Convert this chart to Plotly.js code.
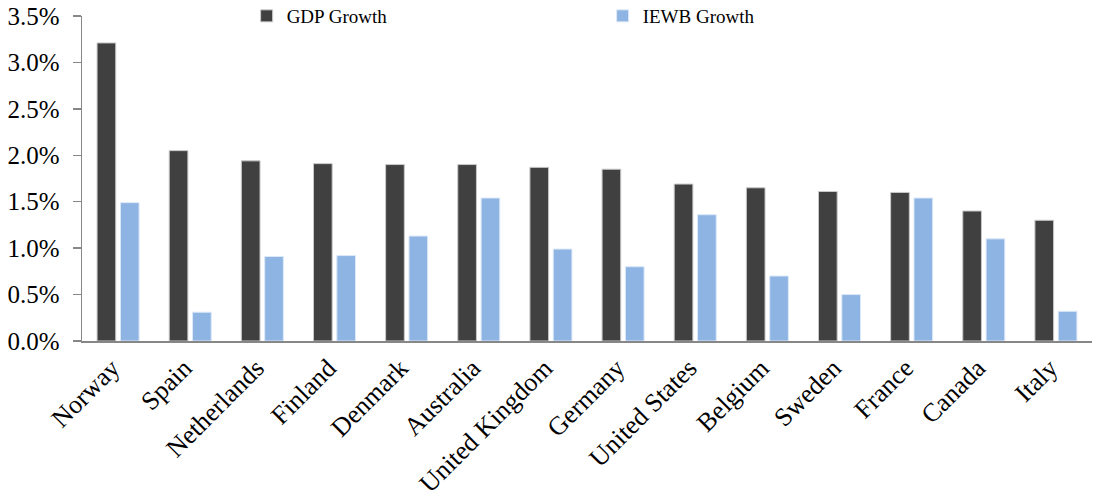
<!DOCTYPE html>
<html>
<head>
<meta charset="utf-8">
<script src="https://cdn.plot.ly/plotly-3.0.1.min.js"></script>
<style>html,body{margin:0;padding:0;background:#fff;}#chart{width:1094px;height:501px;}</style>
</head>
<body>
<div id="chart"></div>
<script>
const countries = ["Norway","Spain","Netherlands","Finland","Denmark","Australia","United Kingdom","Germany","United States","Belgium","Sweden","France","Canada","Italy"];
const gdpGrowth = [3.21,2.05,1.94,1.91,1.90,1.90,1.87,1.85,1.69,1.65,1.61,1.60,1.40,1.30];
const iewbGrowth = [1.49,0.31,0.91,0.92,1.13,1.54,0.99,0.80,1.36,0.70,0.50,1.54,1.10,0.32];
const yTickVals = [0,0.5,1,1.5,2,2.5,3,3.5];
const yTickText = yTickVals.map(v => v.toFixed(1) + "%");

const font = "Liberation Serif";
const traces = [
  {type:"bar", name:"GDP Growth", x:countries, y:gdpGrowth,
   marker:{color:"#404040", line:{color:"#c8c8c8", width:1}}},
  {type:"bar", name:"IEWB Growth", x:countries, y:iewbGrowth,
   marker:{color:"#8EB4E3", line:{color:"#dce8f7", width:1}}}
];
const layout = {
  width:1094, height:501,
  margin:{l:82, r:2, t:16, b:160, autoexpand:false},
  paper_bgcolor:"#fff", plot_bgcolor:"#fff",
  font:{family:font, color:"#000", size:22},
  barmode:"group", bargap:0.353, bargroupgap:0.2,
  showlegend:true,
  legend:{orientation:"h", x:0.163, y:1.0, xanchor:"left", yanchor:"middle",
    font:{family:font, size:19, color:"#000"},
    entrywidth:311, entrywidthmode:"pixels", bgcolor:"rgba(0,0,0,0)",
    itemclick:false},
  xaxis:{type:"category", showline:true, linecolor:"#878787", linewidth:1.5,
    ticks:"", tickangle:-45, ticklabelshift:-6,
    tickfont:{family:font, size:26, color:"#000"},
    showgrid:false, zeroline:false, fixedrange:true, automargin:false},
  yaxis:{range:[0,3.5], tickmode:"array", tickvals:yTickVals, ticktext:yTickText,
    showline:true, linecolor:"#878787", linewidth:1.5,
    ticks:"outside", ticklen:8, tickcolor:"#878787", tickwidth:1.5,
    ticklabelstandoff:8,
    tickfont:{family:font, size:25, color:"#000"},
    showgrid:false, zeroline:false, fixedrange:true, automargin:false}
};
Plotly.newPlot("chart", traces, layout, {displayModeBar:false, staticPlot:true});
</script>
</body>
</html>
